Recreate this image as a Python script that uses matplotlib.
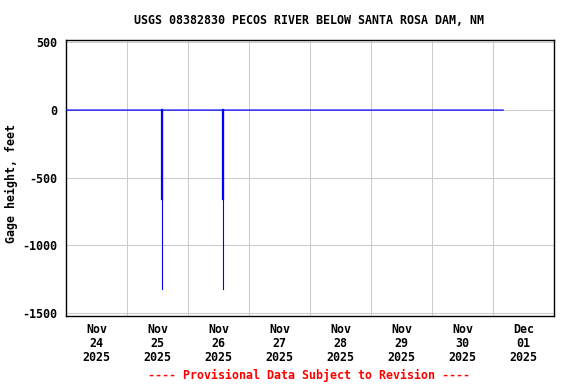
import matplotlib
matplotlib.use("Agg")
import matplotlib.pyplot as plt
import matplotlib.dates as mdates
from datetime import datetime

# Data
main_times = ["2025-11-24 00:00", "2025-11-25 13:45", "2025-11-25 13:50", "2025-11-25 13:55",
              "2025-11-26 13:45", "2025-11-26 13:50", "2025-11-26 13:55", "2025-12-01 04:00"]
main_values = [0, 0, -656, 0, 0, -656, 0, 0]
spike_times = ["2025-11-25 13:50", "2025-11-26 13:50"]
spike_min_values = [-656, -656]
spike_extreme_values = [-1321, -1321]
tick_days = ["2025-11-24", "2025-11-25", "2025-11-26", "2025-11-27",
             "2025-11-28", "2025-11-29", "2025-11-30", "2025-12-01"]
tick_labels = ["Nov\n24\n2025", "Nov\n25\n2025", "Nov\n26\n2025", "Nov\n27\n2025",
               "Nov\n28\n2025", "Nov\n29\n2025", "Nov\n30\n2025", "Dec\n01\n2025"]
y_ticks = [500, 0, -500, -1000, -1500]

FS = 8.4
plt.rcParams["font.family"] = "DejaVu Sans Mono"
plt.rcParams["font.weight"] = "bold"

fig = plt.figure(figsize=(5.76, 3.84), dpi=100)
ax = fig.add_axes([66/576, 1-316/384, (554-66)/576, (316-40)/384])

def to_dt(s):
    return datetime.strptime(s, "%Y-%m-%d %H:%M")

mt = [to_dt(s) for s in main_times]
st = [to_dt(s) for s in spike_times]

for t, v in zip(st, spike_extreme_values):
    ax.plot([t, t], [0, v], color="#0000ff", linewidth=0.8, zorder=3)
for t, v in zip(st, spike_min_values):
    ax.plot([t, t], [0, v], color="#0000ff", linewidth=1.6, zorder=4)
ax.plot(mt, main_values, color="#0000ff", linewidth=0.9, zorder=4)

xmin = datetime(2025, 11, 24)
xmax = datetime(2025, 12, 2)
ax.set_xlim(xmin, xmax)
ax.set_ylim(-1522, 518)

# gridlines at midnight
mids = [mdates.date2num(xmin) + i for i in range(1, 8)]
for m in mids:
    ax.axvline(m, color="#cccccc", linewidth=0.75, zorder=1)
for y in y_ticks:
    ax.axhline(y, color="#cccccc", linewidth=0.75, zorder=1)

tick_pos = [mdates.date2num(datetime.strptime(d, "%Y-%m-%d")) + 0.5 for d in tick_days]
ax.set_xticks(tick_pos)
ax.set_xticklabels(tick_labels, fontsize=FS, fontweight="bold", linespacing=1.1)
ax.set_yticks(y_ticks)
ax.set_yticklabels([str(v) for v in y_ticks], fontsize=FS, fontweight="bold")
ax.tick_params(axis="x", length=0, pad=5)
ax.tick_params(axis="y", length=0, pad=6)
for sp in ax.spines.values():
    sp.set_linewidth(1.0)
    sp.set_color("black")

ax.set_ylabel("Gage height, feet", fontsize=FS, fontweight="bold")
ax.yaxis.set_label_coords((18 - 66) / 488, 0.48)
fig.text(309/576, 1-20/384, "USGS 08382830 PECOS RIVER BELOW SANTA ROSA DAM, NM",
         ha="center", va="center", fontsize=FS, fontweight="bold")
fig.text(309/576, 1-375/384, "---- Provisional Data Subject to Revision ----",
         ha="center", va="center", fontsize=FS, fontweight="bold", color="#ff0000")

fig.savefig("out.png", dpi=100)
